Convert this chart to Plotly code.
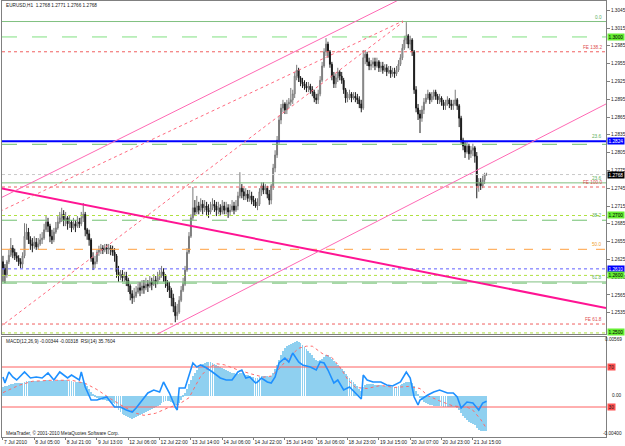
import plotly.graph_objects as go

# ---------------- data ----------------
bar_index = list(range(248))

close = [
1.2610, 1.2599, 1.2621, 1.2632, 1.2644, 1.2637, 1.2631, 1.2627, 1.2621, 1.2617,
1.2631, 1.2664, 1.2671, 1.2658, 1.2651, 1.2648, 1.2654, 1.2646, 1.2651, 1.2658,
1.2661, 1.2675, 1.2688, 1.2681, 1.2664, 1.2658, 1.2671, 1.2678, 1.2688, 1.2695,
1.2701, 1.2691, 1.2695, 1.2685, 1.2688, 1.2678, 1.2685, 1.2681, 1.2688, 1.2685,
1.2695, 1.2701, 1.2675, 1.2668, 1.2658, 1.2627, 1.2617, 1.2621, 1.2637, 1.2641,
1.2644, 1.2641, 1.2644, 1.2643, 1.2644, 1.2641, 1.2637, 1.2631, 1.2604, 1.2597,
1.2600, 1.2594, 1.2597, 1.2590, 1.2580, 1.2567, 1.2560, 1.2563, 1.2570, 1.2577,
1.2573, 1.2580, 1.2577, 1.2583, 1.2580, 1.2587, 1.2583, 1.2590, 1.2587, 1.2594,
1.2600, 1.2604, 1.2597, 1.2587, 1.2580, 1.2573, 1.2560, 1.2546, 1.2530, 1.2536,
1.2556, 1.2573, 1.2583, 1.2607, 1.2637, 1.2664, 1.2695, 1.2712, 1.2705, 1.2715,
1.2708, 1.2718, 1.2712, 1.2715, 1.2708, 1.2705, 1.2712, 1.2718, 1.2715, 1.2708,
1.2712, 1.2705, 1.2715, 1.2708, 1.2712, 1.2705, 1.2708, 1.2715, 1.2708, 1.2715,
1.2732, 1.2745, 1.2739, 1.2732, 1.2735, 1.2728, 1.2732, 1.2725, 1.2722, 1.2715,
1.2718, 1.2739, 1.2749, 1.2742, 1.2745, 1.2735, 1.2725, 1.2749, 1.2779, 1.2801,
1.2826, 1.2860, 1.2880, 1.2887, 1.2877, 1.2887, 1.2890, 1.2894, 1.2904, 1.2934,
1.2944, 1.2931, 1.2924, 1.2921, 1.2917, 1.2914, 1.2917, 1.2911, 1.2907, 1.2897,
1.2894, 1.2904, 1.2927, 1.2951, 1.2975, 1.2988, 1.2975, 1.2954, 1.2934, 1.2921,
1.2931, 1.2941, 1.2934, 1.2927, 1.2911, 1.2897, 1.2900, 1.2904, 1.2897, 1.2900,
1.2897, 1.2894, 1.2887, 1.2880, 1.2965, 1.2971, 1.2958, 1.2951, 1.2954, 1.2958,
1.2951, 1.2958, 1.2948, 1.2951, 1.2944, 1.2948, 1.2941, 1.2944, 1.2938, 1.2941,
1.2938, 1.2944, 1.2954, 1.2965, 1.2981, 1.2995, 1.3002, 1.2988, 1.2995, 1.2975,
1.2911, 1.2880, 1.2870, 1.2863, 1.2877, 1.2890, 1.2897, 1.2904, 1.2894, 1.2900,
1.2907, 1.2900, 1.2894, 1.2897, 1.2890, 1.2884, 1.2887, 1.2894, 1.2887, 1.2884,
1.2887, 1.2894, 1.2884, 1.2863, 1.2826, 1.2816, 1.2806, 1.2816, 1.2803, 1.2809,
1.2813, 1.2799, 1.2749, 1.2755, 1.2749, 1.2759, 1.2768, 1.2768,
]

high = [
1.2631, 1.2617, 1.2624, 1.2641, 1.2661, 1.2649, 1.2643, 1.2637, 1.2632, 1.2627,
1.2637, 1.2686, 1.2685, 1.2678, 1.2664, 1.2661, 1.2664, 1.2661, 1.2661, 1.2668,
1.2671, 1.2685, 1.2698, 1.2695, 1.2685, 1.2675, 1.2678, 1.2688, 1.2698, 1.2705,
1.2712, 1.2708, 1.2705, 1.2698, 1.2698, 1.2691, 1.2695, 1.2691, 1.2698, 1.2695,
1.2705, 1.2720, 1.2705, 1.2678, 1.2675, 1.2661, 1.2637, 1.2631, 1.2641, 1.2648,
1.2651, 1.2649, 1.2651, 1.2651, 1.2651, 1.2649, 1.2648, 1.2644, 1.2634, 1.2614,
1.2607, 1.2607, 1.2604, 1.2604, 1.2594, 1.2583, 1.2573, 1.2577, 1.2580, 1.2587,
1.2587, 1.2590, 1.2590, 1.2594, 1.2590, 1.2597, 1.2594, 1.2600, 1.2597, 1.2604,
1.2607, 1.2614, 1.2610, 1.2600, 1.2590, 1.2587, 1.2577, 1.2567, 1.2553, 1.2550,
1.2563, 1.2580, 1.2594, 1.2614, 1.2644, 1.2671, 1.2701, 1.2747, 1.2725, 1.2732,
1.2722, 1.2728, 1.2725, 1.2725, 1.2722, 1.2718, 1.2722, 1.2728, 1.2725, 1.2722,
1.2722, 1.2718, 1.2725, 1.2722, 1.2722, 1.2718, 1.2718, 1.2725, 1.2722, 1.2725,
1.2739, 1.2772, 1.2752, 1.2745, 1.2745, 1.2742, 1.2742, 1.2739, 1.2732, 1.2728,
1.2728, 1.2745, 1.2755, 1.2755, 1.2752, 1.2749, 1.2742, 1.2752, 1.2786, 1.2809,
1.2833, 1.2867, 1.2887, 1.2894, 1.2890, 1.2894, 1.2897, 1.2914, 1.2911, 1.2941,
1.2953, 1.2948, 1.2934, 1.2931, 1.2927, 1.2924, 1.2924, 1.2921, 1.2917, 1.2911,
1.2904, 1.2911, 1.2934, 1.2958, 1.2981, 1.2998, 1.2992, 1.2978, 1.2958, 1.2941,
1.2938, 1.2948, 1.2944, 1.2941, 1.2931, 1.2914, 1.2907, 1.2911, 1.2907, 1.2907,
1.2907, 1.2904, 1.2900, 1.2894, 1.2978, 1.2978, 1.2975, 1.2965, 1.2961, 1.2965,
1.2965, 1.2965, 1.2961, 1.2958, 1.2958, 1.2954, 1.2954, 1.2951, 1.2951, 1.2948,
1.2948, 1.2951, 1.2961, 1.2971, 1.2988, 1.3002, 1.3025, 1.3005, 1.3002, 1.2998,
1.2978, 1.2917, 1.2887, 1.2877, 1.2884, 1.2897, 1.2904, 1.2911, 1.2907, 1.2907,
1.2911, 1.2911, 1.2904, 1.2904, 1.2900, 1.2894, 1.2894, 1.2900, 1.2897, 1.2894,
1.2894, 1.2911, 1.2897, 1.2887, 1.2867, 1.2830, 1.2823, 1.2823, 1.2820, 1.2816,
1.2820, 1.2816, 1.2806, 1.2762, 1.2762, 1.2766, 1.2771, 1.2771,
]

low = [
1.2587, 1.2585, 1.2594, 1.2617, 1.2629, 1.2627, 1.2624, 1.2621, 1.2614, 1.2610,
1.2610, 1.2627, 1.2658, 1.2651, 1.2641, 1.2637, 1.2643, 1.2641, 1.2641, 1.2648,
1.2651, 1.2658, 1.2671, 1.2671, 1.2654, 1.2651, 1.2654, 1.2668, 1.2675, 1.2685,
1.2688, 1.2681, 1.2681, 1.2675, 1.2678, 1.2671, 1.2675, 1.2671, 1.2678, 1.2678,
1.2681, 1.2688, 1.2664, 1.2658, 1.2648, 1.2621, 1.2607, 1.2610, 1.2617, 1.2631,
1.2634, 1.2634, 1.2637, 1.2634, 1.2634, 1.2632, 1.2631, 1.2621, 1.2594, 1.2587,
1.2590, 1.2587, 1.2587, 1.2580, 1.2570, 1.2556, 1.2550, 1.2553, 1.2560, 1.2567,
1.2563, 1.2567, 1.2567, 1.2573, 1.2570, 1.2577, 1.2573, 1.2580, 1.2577, 1.2583,
1.2590, 1.2594, 1.2587, 1.2577, 1.2570, 1.2560, 1.2546, 1.2536, 1.2519, 1.2523,
1.2533, 1.2553, 1.2570, 1.2580, 1.2604, 1.2634, 1.2661, 1.2691, 1.2698, 1.2701,
1.2701, 1.2705, 1.2701, 1.2705, 1.2698, 1.2695, 1.2701, 1.2708, 1.2705, 1.2698,
1.2701, 1.2698, 1.2701, 1.2701, 1.2701, 1.2695, 1.2698, 1.2705, 1.2701, 1.2705,
1.2708, 1.2728, 1.2728, 1.2725, 1.2725, 1.2722, 1.2722, 1.2718, 1.2715, 1.2712,
1.2708, 1.2715, 1.2732, 1.2735, 1.2735, 1.2728, 1.2717, 1.2718, 1.2742, 1.2772,
1.2796, 1.2820, 1.2853, 1.2873, 1.2870, 1.2870, 1.2880, 1.2884, 1.2887, 1.2897,
1.2927, 1.2924, 1.2917, 1.2914, 1.2911, 1.2907, 1.2907, 1.2904, 1.2900, 1.2890,
1.2887, 1.2887, 1.2900, 1.2924, 1.2948, 1.2968, 1.2965, 1.2948, 1.2927, 1.2914,
1.2914, 1.2924, 1.2927, 1.2921, 1.2904, 1.2889, 1.2890, 1.2894, 1.2890, 1.2894,
1.2890, 1.2887, 1.2880, 1.2873, 1.2877, 1.2954, 1.2951, 1.2944, 1.2944, 1.2948,
1.2944, 1.2948, 1.2941, 1.2941, 1.2938, 1.2941, 1.2934, 1.2938, 1.2931, 1.2933,
1.2931, 1.2934, 1.2941, 1.2951, 1.2961, 1.2978, 1.2988, 1.2981, 1.2978, 1.2968,
1.2904, 1.2873, 1.2860, 1.2838, 1.2857, 1.2870, 1.2887, 1.2894, 1.2887, 1.2890,
1.2894, 1.2894, 1.2887, 1.2887, 1.2884, 1.2877, 1.2877, 1.2884, 1.2880, 1.2877,
1.2877, 1.2884, 1.2877, 1.2848, 1.2820, 1.2809, 1.2796, 1.2803, 1.2793, 1.2796,
1.2799, 1.2788, 1.2728, 1.2739, 1.2742, 1.2745, 1.2752, 1.2766,
]

first_open = 1.2621
open_ = [first_open] + close[:-1]

macd_hist = [
0.0008, 0.0009, 0.0009, 0.0010, 0.0011, 0.0011, 0.0012, 0.0012, 0.0012, 0.0012,
0.0012, 0.0013, 0.0014, 0.0014, 0.0014, 0.0014, 0.0014, 0.0014, 0.0014, 0.0014,
0.0014, 0.0014, 0.0015, 0.0015, 0.0014, 0.0014, 0.0014, 0.0014, 0.0015, 0.0015,
0.0015, 0.0015, 0.0015, 0.0014, 0.0014, 0.0014, 0.0013, 0.0013, 0.0013, 0.0013,
0.0013, 0.0013, 0.0011, 0.0009, 0.0007, 0.0004, 0.0001, -0.0001, -0.0002, -0.0003,
-0.0003, -0.0004, -0.0004, -0.0005, -0.0005, -0.0006, -0.0007, -0.0008, -0.0011, -0.0014,
-0.0016, -0.0018, -0.0019, -0.0020, -0.0021, -0.0022, -0.0023, -0.0022, -0.0021, -0.0020,
-0.0019, -0.0018, -0.0017, -0.0016, -0.0015, -0.0014, -0.0013, -0.0012, -0.0011, -0.0010,
-0.0009, -0.0007, -0.0006, -0.0005, -0.0005, -0.0005, -0.0006, -0.0007, -0.0009, -0.0009,
-0.0007, -0.0004, -0.0001, 0.0003, 0.0007, 0.0011, 0.0015, 0.0019, 0.0022, 0.0025,
0.0028, 0.0030, 0.0031, 0.0032, 0.0033, 0.0033, 0.0033, 0.0032, 0.0031, 0.0030,
0.0029, 0.0028, 0.0027, 0.0026, 0.0025, 0.0024, 0.0023, 0.0022, 0.0022, 0.0021,
0.0021, 0.0022, 0.0022, 0.0021, 0.0020, 0.0020, 0.0019, 0.0018, 0.0018, 0.0017,
0.0017, 0.0018, 0.0019, 0.0019, 0.0019, 0.0019, 0.0018, 0.0019, 0.0022, 0.0026,
0.0030, 0.0035, 0.0039, 0.0043, 0.0046, 0.0048, 0.0049, 0.0050, 0.0051, 0.0052,
0.0053, 0.0052, 0.0051, 0.0049, 0.0047, 0.0045, 0.0043, 0.0041, 0.0039, 0.0037,
0.0035, 0.0034, 0.0035, 0.0036, 0.0038, 0.0039, 0.0039, 0.0038, 0.0036, 0.0034,
0.0032, 0.0030, 0.0028, 0.0026, 0.0024, 0.0021, 0.0019, 0.0017, 0.0015, 0.0013,
0.0011, 0.0009, 0.0007, 0.0005, 0.0008, 0.0010, 0.0011, 0.0011, 0.0011, 0.0011,
0.0010, 0.0010, 0.0010, 0.0010, 0.0009, 0.0009, 0.0009, 0.0009, 0.0008, 0.0008,
0.0008, 0.0008, 0.0009, 0.0010, 0.0011, 0.0012, 0.0013, 0.0013, 0.0013, 0.0012,
0.0009, 0.0005, 0.0001, -0.0002, -0.0004, -0.0006, -0.0007, -0.0008, -0.0009, -0.0009,
-0.0010, -0.0010, -0.0010, -0.0010, -0.0010, -0.0011, -0.0011, -0.0011, -0.0011, -0.0011,
-0.0011, -0.0011, -0.0012, -0.0014, -0.0017, -0.0020, -0.0022, -0.0024, -0.0025, -0.0026,
-0.0027, -0.0028, -0.0031, -0.0033, -0.0034, -0.0034, -0.0034, -0.00344,
]

signal_x = [0, 8, 15, 25, 35, 42, 48, 55, 62, 68, 72, 78, 84, 90, 95, 101, 105, 109,
            113, 120, 127, 133, 137, 141, 146, 151, 155, 158, 163, 168, 172, 176,
            180, 186, 193, 200, 207, 213, 217, 223, 230, 237, 240, 244, 247]
signal_v = [0.0003, 0.0010, 0.0014, 0.0015, 0.0015, 0.0012, 0.0006, -0.0003, -0.0011,
            -0.0017, -0.0019, -0.0017, -0.0012, -0.0008, -0.0002, 0.0019, 0.0027,
            0.0031, 0.0030, 0.0025, 0.0021, 0.0018, 0.0019, 0.0026, 0.0037, 0.0046,
            0.0048, 0.0048, 0.0041, 0.0037, 0.0028, 0.0016, 0.0008, 0.0007, 0.0010,
            0.0008, 0.0009, 0.0007, 0.0000, -0.0005, -0.0010, -0.0011, -0.0014,
            -0.0023, -0.00318]

rsi_x = [0, 1, 3, 5, 7, 11, 14, 17, 20, 23, 26, 29, 33, 35, 39, 40, 42, 45, 48, 53,
         57, 60, 63, 66, 68, 74, 77, 80, 82, 85, 88, 89, 90, 93, 97, 99, 101, 104,
         107, 111, 114, 117, 120, 122, 124, 126, 129, 130, 132, 135, 137, 139, 141,
         144, 146, 148, 151, 153, 157, 160, 162, 164, 166, 169, 171, 174, 177, 181,
         183, 184, 186, 189, 193, 196, 199, 203, 206, 208, 210, 212, 213, 217, 220,
         223, 227, 230, 232, 234, 237, 240, 243, 245, 247]
rsi_v = [60, 54, 65, 60, 57, 65, 59, 60, 59, 64, 57, 65, 59, 62, 57, 65, 50, 37, 37,
         40, 30, 30, 27, 25, 29, 44, 47, 45, 55, 44, 30, 27, 49, 49, 74, 70, 72, 69,
         65, 59, 57, 57, 65, 67, 59, 60, 54, 55, 59, 55, 54, 60, 74, 79, 75, 84, 75,
         72, 70, 67, 75, 74, 67, 54, 57, 47, 50, 42, 38, 62, 57, 55, 55, 52, 51, 55,
         65, 59, 40, 32, 37, 42, 45, 47, 44, 44, 40, 29, 35, 34, 27, 34, 35.76]
rsi_levels = [70, 30]

# x-axis time labels (every 16 bars)
time_tick_bars = [0, 16, 32, 48, 64, 80, 96, 112, 128, 144, 160, 176, 192, 208, 224, 240]
time_tick_text = ["7 Jul 2010", "8 Jul 05:00", "8 Jul 21:00", "9 Jul 13:00",
                  "12 Jul 06:00", "12 Jul 22:00", "13 Jul 14:00", "14 Jul 06:00",
                  "14 Jul 22:00", "15 Jul 14:00", "16 Jul 06:00", "18 Jul 23:00",
                  "19 Jul 15:00", "20 Jul 07:00", "20 Jul 23:00", "21 Jul 15:00"]

price_ticks = [1.3045, 1.3015, 1.2985, 1.2955, 1.2925, 1.2895, 1.2865, 1.2835, 1.2805,
               1.2775, 1.2745, 1.2715, 1.2685, 1.2655, 1.2625, 1.2595, 1.2565, 1.2535]

# MACD pane scale captions
macd_scale_text = ["0.00569", "0.00", "-0.00400"]
macd_scale_val = [0.00545, 0.0, -0.00370]

# horizontal objects (price levels)
hl_price = [1.3026, 1.3000, 1.2975, 1.2824, 1.2819, 1.2768, 1.2754, 1.2747, 1.2699,
            1.2691, 1.2642, 1.2609, 1.2598, 1.2587, 1.2585, 1.2516, 1.2501]
hl_color = ['#80c080', '#80e080', '#f06060', '#0000ff', '#70c070', '#c8c8c8', '#80c080',
            '#f06060', '#b0e040', '#70c070', '#ffa040', '#6060ff', '#b0e040', '#80c080',
            '#70c070', '#f06060', '#b0e040']
hl_dash = ['solid', 'longdash', 'dot', 'solid', 'longdash', 'dot', 'solid', 'dot', 'dot',
           'longdash', 'dash', 'dot', 'dot', 'solid', 'longdash', 'dot', 'dot']
hl_width = [1, 1, 1, 2, 1, 1, 1, 1, 1, 1, 1, 1, 1, 1, 1, 1, 1]

# level captions (fibo / expansion)
cap_text = ["0.0", "FE 138.2", "23.6", "23.6", "FE 100.0", "38.2", "50.0", "61.8", "FE 61.8"]
cap_price = [1.3026, 1.2975, 1.2824, 1.2754, 1.2747, 1.2691, 1.2642, 1.2587, 1.2516]
cap_color = ['#60b060', '#e05050', '#60b060', '#60b060', '#e05050', '#60b060',
             '#f0a030', '#60b060', '#e05050']

# price boxes on the axis
box_text = ["1.3000", "1.2824", "1.2768", "1.2700", "1.2610", "1.2600", "1.2500"]
box_price = [1.3000, 1.2824, 1.2768, 1.2699, 1.2609, 1.2598, 1.2503]
box_bg = ['#66ee33', '#0000ff', '#000000', '#66ee33', '#0000ff', '#66ee33', '#66ee33']
box_fg = ['#000000', '#ffffff', '#ffffff', '#000000', '#ffffff', '#000000', '#000000']

# trend lines (bar index, price)
tl_x0 = [-1.5, -1.5, 77.6, -1.5, -1.5]
tl_y0 = [1.2745, 1.2728, 1.2497, 1.2706, 1.2511]
tl_x1 = [308.0, 211.0, 308.0, 204.3, 204.3]
tl_y1 = [1.2543, 1.3077, 1.2887, 1.3027, 1.3025]
tl_color = ['#ff1493', '#ff69b4', '#ff69b4', '#ff6a80', '#ff6a80']
tl_width = [2, 1, 1, 1, 1]
tl_dash = ['solid', 'solid', 'solid', 'dot', 'dot']

# ---------------- figure ----------------
W, H = 625, 446
def py(px):
    return 1 - px / H

XDOM = [2 / W, 606 / W]
MAIN_DOM = [py(334), py(1)]
SUB_DOM = [py(437), py(337)]
XR = [-0.5, 308.0]
MAIN_R = [1.24992, 1.30606]
FONT = "Liberation Sans"
FS = 4.7
TXT = '#202020'

fig = go.Figure()

for p, c, d, w in zip(hl_price, hl_color, hl_dash, hl_width):
    fig.add_trace(go.Scatter(x=XR, y=[p, p], mode='lines', xaxis='x', yaxis='y',
                             line=dict(color=c, dash=d, width=w),
                             hoverinfo='skip', showlegend=False))

for x0, y0, x1, y1, c, w, d in zip(tl_x0, tl_y0, tl_x1, tl_y1, tl_color, tl_width, tl_dash):
    fig.add_trace(go.Scatter(x=[x0, x1], y=[y0, y1], mode='lines', xaxis='x', yaxis='y',
                             line=dict(color=c, width=w, dash=d),
                             hoverinfo='skip', showlegend=False))

hi = [max(h, o, c) for h, o, c in zip(high, open_, close)]
lo = [min(l, o, c) for l, o, c in zip(low, open_, close)]
fig.add_trace(go.Candlestick(
    x=bar_index, open=open_, high=hi, low=lo, close=close,
    xaxis='x', yaxis='y', whiskerwidth=0,
    increasing=dict(line=dict(color='#7a7a7a', width=1), fillcolor='#c8c8c8'),
    decreasing=dict(line=dict(color='#1a1a1a', width=1), fillcolor='#000000'),
    hoverinfo='skip', showlegend=False))

# MACD pane
fig.add_trace(go.Bar(x=bar_index, y=macd_hist, xaxis='x2', yaxis='y2',
                     marker=dict(color='#8fd0f0', line=dict(width=0)), width=0.42,
                     hoverinfo='skip', showlegend=False))
fig.add_trace(go.Scatter(x=signal_x, y=signal_v, mode='lines', xaxis='x2', yaxis='y2',
                         line=dict(color='#ff6a6a', width=1, dash='dot'),
                         hoverinfo='skip', showlegend=False))
for lv in rsi_levels:
    fig.add_trace(go.Scatter(x=XR, y=[lv, lv], mode='lines', xaxis='x2', yaxis='y3',
                             line=dict(color='#ff6060', width=1),
                             hoverinfo='skip', showlegend=False))
fig.add_trace(go.Scatter(x=rsi_x, y=rsi_v, mode='lines', xaxis='x2', yaxis='y3',
                         line=dict(color='#1e90ff', width=1.6),
                         hoverinfo='skip', showlegend=False))

ann = []
ann.append(dict(x=4 / W, y=py(5.5), xref='paper', yref='paper', xanchor='left', yanchor='middle',
                text="EURUSD,H1  1.2768 1.2771 1.2766 1.2768", showarrow=False,
                font=dict(family=FONT, size=FS, color=TXT)))
ann.append(dict(x=4 / W, y=py(341.5), xref='paper', yref='paper', xanchor='left', yanchor='middle',
                text="MACD(12,26,9) -0.00344 -0.00318  RSI(14) 35.7604", showarrow=False,
                font=dict(family=FONT, size=FS, color=TXT)))
ann.append(dict(x=4 / W, y=py(433), xref='paper', yref='paper', xanchor='left', yanchor='middle',
                text="MetaTrader, \u00a9 2001-2010 MetaQuotes Software Corp.", showarrow=False,
                font=dict(family=FONT, size=FS, color=TXT)))
for t, p, c in zip(cap_text, cap_price, cap_color):
    ann.append(dict(x=604 / W, y=p, xref='paper', yref='y', xanchor='right', yanchor='bottom',
                    text=t, showarrow=False, font=dict(family=FONT, size=FS, color=c)))
for t, p, bg, fg in zip(box_text, box_price, box_bg, box_fg):
    ann.append(dict(x=607 / W, y=p, xref='paper', yref='y', xanchor='left', yanchor='middle',
                    text=t, showarrow=False, bgcolor=bg, borderpad=0.6,
                    font=dict(family=FONT, size=FS, color=fg)))
for t, v in zip(macd_scale_text, macd_scale_val):
    ann.append(dict(x=624 / W, y=v, xref='paper', yref='y2', xanchor='right',
                    yanchor='middle', text=t, showarrow=False,
                    font=dict(family=FONT, size=FS, color=TXT)))
for lv in rsi_levels:
    ann.append(dict(x=607 / W, y=lv, xref='paper', yref='y3', xanchor='left', yanchor='middle',
                    text=str(lv), showarrow=False, bgcolor='#ff5050', borderpad=0.6,
                    font=dict(family=FONT, size=FS, color=TXT)))

axis_common = dict(showgrid=False, zeroline=False, showline=True, mirror=True,
                   linecolor='#808080', linewidth=1)

fig.update_layout(
    width=W, height=H, margin=dict(l=0, r=0, t=0, b=0),
    paper_bgcolor='white', plot_bgcolor='white', showlegend=False,
    bargap=0,
    annotations=ann,
    xaxis=dict(domain=XDOM, range=XR, anchor='y', showticklabels=False,
               rangeslider=dict(visible=False), **axis_common),
    yaxis=dict(domain=MAIN_DOM, range=MAIN_R, side='right', anchor='x',
               tickvals=price_ticks, ticktext=[f"{v:.4f}" for v in price_ticks],
               ticks='outside', ticklen=3, tickcolor='#808080',
               tickfont=dict(family=FONT, size=FS, color=TXT), **axis_common),
    xaxis2=dict(domain=XDOM, range=XR, anchor='y2', matches='x',
                tickvals=time_tick_bars, ticktext=time_tick_text, tickangle=0,
                ticks='outside', ticklen=2, tickcolor='#808080',
                ticklabelposition='outside right',
                tickfont=dict(family=FONT, size=5, color=TXT), **axis_common),
    yaxis2=dict(domain=SUB_DOM, range=[-0.00400, 0.00569], side='right', anchor='x2',
                showticklabels=False, ticks='', **axis_common),
    yaxis3=dict(domain=SUB_DOM, range=[0, 100], overlaying='y2', side='right',
                anchor='x2', visible=False),
)

fig.write_html("out.html")
